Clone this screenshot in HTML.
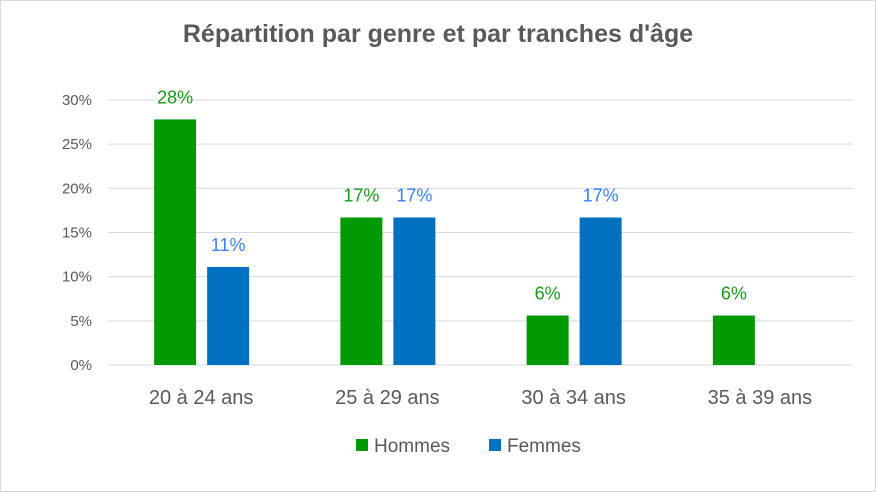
<!DOCTYPE html>
<html><head><meta charset="utf-8"><style>
html,body{margin:0;padding:0;background:#fff}
svg{display:block;font-family:"Liberation Sans",Calibri,sans-serif}
</style></head><body>
<svg id="c" width="876" height="492">
<rect x="0.5" y="0.5" width="875" height="491" fill="#fff" stroke="#d9d9d9"/>
<text x="438" y="42" text-anchor="middle" font-size="25" font-weight="bold" fill="#595959">Répartition par genre et par tranches d'âge</text>
<g id="grid"></g><g id="bars"></g><g id="labels"></g>
<g>
<rect x="356" y="439" width="12" height="12" fill="#009900"/>
<text x="374" y="452" font-size="19" fill="#595959">Hommes</text>
<rect x="489" y="439" width="12" height="12" fill="#0070c0"/>
<text x="507" y="452" font-size="19" fill="#595959">Femmes</text>
</g>
</svg>
<script>
const categories=["20 à 24 ans","25 à 29 ans","30 à 34 ans","35 à 39 ans"];
const hommes=[27.8,16.7,5.6,5.6];
const femmes=[11.1,16.7,16.7,0];
const ticks=[0,5,10,15,20,25,30];
const NS="http://www.w3.org/2000/svg";
const L=108,R=853,T=100,B=365,MAX=30;
const y=v=>B-(v/MAX)*(B-T);
const bw=(R-L)/categories.length;
const cx=i=>L+bw*(i+0.5);
function mk(tag,attrs,parent,txt){const e=document.createElementNS(NS,tag);for(const k in attrs)e.setAttribute(k,attrs[k]);if(txt!==undefined)e.textContent=txt;document.getElementById(parent).appendChild(e);return e;}
ticks.forEach(t=>{
 const l=mk('line',{x1:L,x2:R,y1:y(t),y2:y(t),stroke:'#d9d9d9','stroke-width':1},'grid');
 
 
 const tx=mk('text',{x:92,y:y(t)+5,'text-anchor':'end','font-size':15,fill:'#595959'},'grid',t+'%');
 
 
});
categories.forEach((c,i)=>{
 const t=mk('text',{x:cx(i),y:404,'text-anchor':'middle','font-size':20,fill:'#595959'},'labels',c);
 
 
 [[hommes,'#009900','#1a9a1a',-47],[femmes,'#0070c0','#3d7dff',6]].forEach(([s,col,lc,off],k)=>{
  const v=s[i]; if(v<=0)return;
  const r=mk('rect',{x:cx(i)+off,y:y(v),width:42,height:B-y(v),fill:col},'bars');
  
  
  const lt=mk('text',{x:cx(i)+off+21,y:y(v)-16,'text-anchor':'middle','font-size':18,fill:lc},'labels',Math.round(v)+'%');
  
  
 });
});
</script>
</body></html>
